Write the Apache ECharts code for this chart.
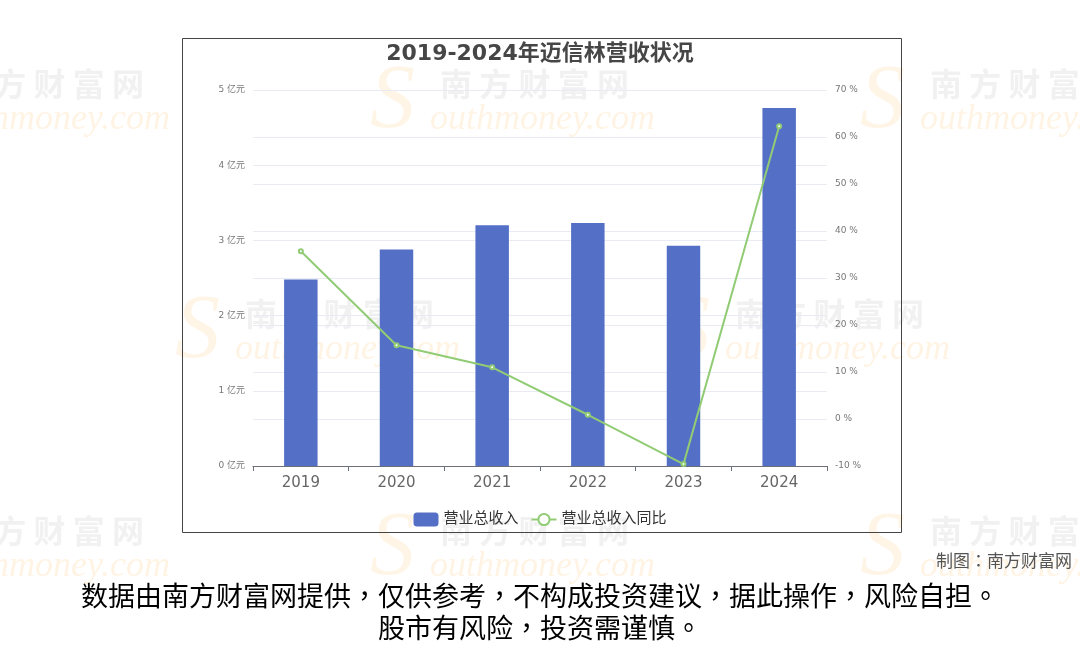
<!DOCTYPE html>
<html><head><meta charset="utf-8">
<script src="https://cdn.jsdelivr.net/npm/echarts@6/dist/echarts.min.js"></script>
<style>html,body{margin:0;padding:0;background:#fff;}#c{width:1080px;height:646px;}</style>
</head><body><div id="c"></div>
<script>
const years = ['2019','2020','2021','2022','2023','2024'];
const revenue = [2.48, 2.88, 3.20, 3.23, 2.93, 4.76];
const yoy = [35.7, 15.7, 11.0, 0.9, -9.6, 62.3];
const titleText = '2019-2024年迈信林营收状况';
const seriesNames = ['营业总收入', '营业总收入同比'];
const credit = '制图：南方财富网';
const disclaimer1 = '数据由南方财富网提供，仅供参考，不构成投资建议，据此操作，风险自担。';
const disclaimer2 = '股市有风险，投资需谨慎。';

const font = '"DejaVu Sans", "Noto Sans CJK SC", sans-serif';
const cjk = '"Noto Sans CJK SC", sans-serif';
const cjkTC = '"Noto Sans CJK TC", "Noto Sans CJK SC", sans-serif';
const chart = echarts.init(document.getElementById('c'), null, {renderer: 'canvas'});

const wm = [];
const wmPos = [[-45,68],[440,68],[930,68],[245,298],[735,298],[-45,515],[440,515],[930,515]];
wmPos.forEach(p => {
  wm.push({type:'text', left:p[0], top:p[1], z:-1, silent:true,
    style:{text:'南 方 财 富 网', font:'bold 32px ' + cjk, fill:'rgba(120,120,120,0.10)'}});
  wm.push({type:'text', left:p[0]-10, top:p[1]+34, z:-1, silent:true,
    style:{text:'outhmoney.com', font:'italic 36px serif', fill:'rgba(255,170,60,0.14)'}});
  wm.push({type:'text', left:p[0]-70, top:p[1]-10, z:-1, silent:true,
    style:{text:'S', font:'italic 90px serif', fill:'rgba(255,170,60,0.12)'}});
});

chart.setOption({
  animation: false,
  backgroundColor: '#fff',
  title: {text: titleText, left: 'center', top: 38,
    textStyle: {fontFamily: font, fontSize: 22, fontWeight: 'bold', color: '#464646'}},
  legend: {data: seriesNames, left: 'center', top: 507, itemGap: 12,
    textStyle: {fontFamily: font, fontSize: 15, color: '#333'}},
  grid: {left: 253, right: 253, top: 90, bottom: 180, containLabel: false},
  xAxis: {type: 'category', data: years,
    axisLine: {lineStyle: {color: '#6E7079'}},
    axisTick: {show: true, lineStyle: {color: '#6E7079'}},
    axisLabel: {fontFamily: font, fontSize: 15, color: '#666', margin: 10}},
  yAxis: [
    {type: 'value', min: 0, max: 5, interval: 1,
      axisLabel: {formatter: '{value} 亿元', fontFamily: font, fontSize: 9, color: '#777'},
      axisLine: {show: false}, axisTick: {show: false},
      splitLine: {lineStyle: {color: '#E8EBF3'}}},
    {type: 'value', min: -10, max: 70, interval: 10,
      axisLabel: {formatter: '{value} %', fontFamily: font, fontSize: 9, color: '#777'},
      axisLine: {show: false}, axisTick: {show: false},
      splitLine: {lineStyle: {color: '#E8EBF3'}}}
  ],
  series: [
    {name: seriesNames[0], type: 'bar', data: revenue, barWidth: '35%',
      itemStyle: {color: '#5470c6'}},
    {name: seriesNames[1], type: 'line', yAxisIndex: 1, data: yoy,
      symbol: 'emptyCircle', symbolSize: 4,
      lineStyle: {color: '#91cc75', width: 2}, itemStyle: {color: '#91cc75'}}
  ],
  graphic: wm.concat([
    {type: 'rect', left: 180, top: 36, z: 10, silent: true,
      shape: {width: 719, height: 494},
      style: {fill: 'none', stroke: '#444', lineWidth: 1}},
    {type: 'text', right: 8, top: 552, style: {text: credit, font: '17px ' + cjkTC, fill: '#555'}},
    {type: 'text', left: 'center', top: 582, style: {text: disclaimer1, font: '27px ' + cjkTC, fill: '#000'}},
    {type: 'text', left: 'center', top: 614, style: {text: disclaimer2, font: '27px ' + cjkTC, fill: '#000'}}
  ])
});
</script></body></html>
